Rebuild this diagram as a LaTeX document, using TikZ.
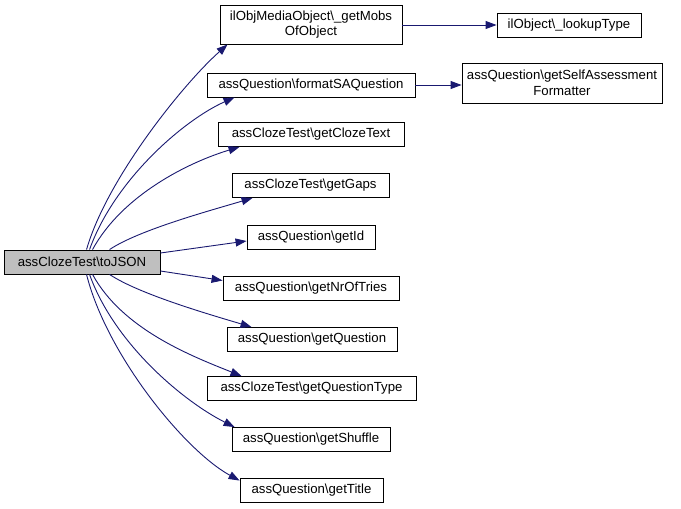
\documentclass[tikz,border=0pt]{standalone}
\usepackage{fontspec}
\setmainfont{Liberation Sans}
\usetikzlibrary{arrows.meta}
\definecolor{edgecol}{HTML}{191970}
\definecolor{mainfill}{HTML}{BFBFBF}
\begin{document}
\begin{tikzpicture}[x=1bp,y=-1bp,
  box/.style={draw=black,line width=0.9bp,fill=white,inner sep=0pt,align=center,
    font=\fontsize{13.2bp}{15.5bp}\selectfont,minimum height=24bp},
  edge/.style={draw=edgecol,line width=0.9bp,-{Triangle[length=11bp,width=8bp]}}]
\useasboundingbox (0,0) rectangle (681,509);
\node[box,fill=mainfill,minimum width=156bp] (main) at (82,262) {assClozeTest\textbackslash{}toJSON};
\node[box,minimum width=182bp,minimum height=39bp] (b1) at (311,24.5) {ilObjMediaObject\textbackslash\_getMobs\\OfObject};
\node[box,minimum width=144bp] (b2) at (569,25) {ilObject\textbackslash\_lookupType};
\node[box,minimum width=208bp] (b3) at (311,85) {assQuestion\textbackslash{}formatSAQuestion};
\node[box,minimum width=200bp,minimum height=40bp] (b4) at (562,83) {assQuestion\textbackslash{}getSelfAssessment\\Formatter};
\node[box,minimum width=186bp] (b5) at (311,134.5) {assClozeTest\textbackslash{}getClozeText};
\node[box,minimum width=157bp] (b6) at (310.5,185.5) {assClozeTest\textbackslash{}getGaps};
\node[box,minimum width=128bp] (b7) at (311,237) {assQuestion\textbackslash{}getId};
\node[box,minimum width=176bp] (b8) at (311,288.5) {assQuestion\textbackslash{}getNrOfTries};
\node[box,minimum width=170bp] (b9) at (312,339.5) {assQuestion\textbackslash{}getQuestion};
\node[box,minimum width=209bp] (b10) at (311.5,388.5) {assClozeTest\textbackslash{}getQuestionType};
\node[box,minimum width=158bp] (b11) at (311,439.5) {assQuestion\textbackslash{}getShuffle};
\node[box,minimum width=143bp] (b12) at (311.5,490) {assQuestion\textbackslash{}getTitle};

\draw[edge] ([xshift=83bp]main.north west) .. controls +(20,-70) and +(-45,40) .. ([xshift=8bp]b1.south west);
\draw[edge] ([xshift=86bp]main.north west) .. controls +(25,-70) and +(-50,22) .. ([xshift=28bp]b3.south west);
\draw[edge] ([xshift=89bp]main.north west) .. controls +(30,-55) and +(-50,15) .. ([xshift=22bp]b5.south west);
\draw[edge] ([xshift=106bp]main.north west) .. controls +(30,-20) and +(-40,12) .. ([xshift=21bp]b6.south west);
\draw[edge] ([yshift=9bp]main.east) -- ([yshift=-4bp]b7.west);
\draw[edge] ([yshift=-9bp]main.east) -- ([yshift=8bp]b8.west);
\draw[edge] ([xshift=106bp]main.south west) .. controls +(30,20) and +(-40,-12) .. ([xshift=25bp]b9.north west);
\draw[edge] ([xshift=89bp]main.south west) .. controls +(30,55) and +(-50,-20) .. ([xshift=35bp]b10.north west);
\draw[edge] ([xshift=86bp]main.south west) .. controls +(25,70) and +(-50,-25) .. ([xshift=3bp]b11.north west);
\draw[edge] ([xshift=83bp]main.south west) .. controls +(20,80) and +(-55,-30) .. ([yshift=-3bp]b12.north west);
\draw[edge] (b1.east |- b2.west) -- (b2.west);
\draw[edge] (b3.east) -- (b3.east -| b4.west);
\end{tikzpicture}
\end{document}
